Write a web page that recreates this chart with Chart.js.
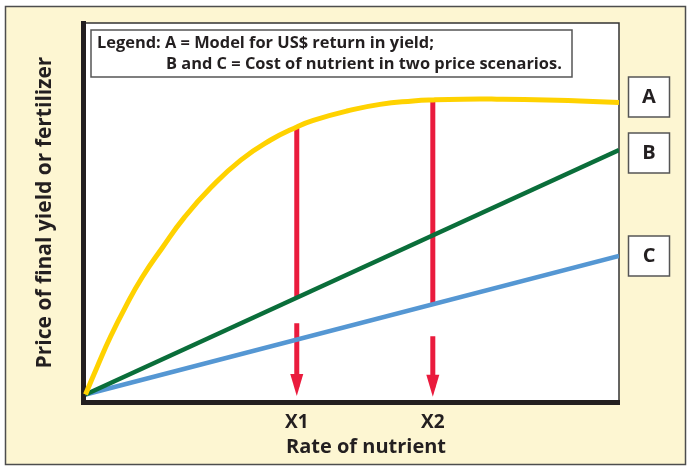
<!DOCTYPE html>
<html>
<head>
<meta charset="utf-8">
<script src="https://cdn.jsdelivr.net/npm/chart.js@4.4.1/dist/chart.umd.min.js"></script>
<style>
  html, body { margin: 0; padding: 0; background: #fff; }
  #wrap { width: 691px; height: 468px; }
</style>
</head>
<body>
<div id="wrap"><canvas id="myChart" width="691" height="468"></canvas></div>
<script>
// curve A: return in yield
var rate = [0, 2.2, 4.7, 7.5, 10.6, 14.4, 18.5, 23.5, 29.1, 34.7, 39.7, 42.7, 49.0, 55.2, 61.4, 65.2, 70.8, 77.1, 86.4, 92.7, 100];
var yieldReturn = [0, 7.5, 15.6, 23.6, 31.5, 39.5, 47.6, 55.7, 63.1, 68.5, 72.1, 73.8, 76.3, 78.1, 79.0, 79.3, 79.5, 79.5, 79.3, 79.0, 78.6];

// lines B and C: cost of nutrient
var costRate = [0, 100];
var costHigh = [0, 65.8];
var costLow = [0, 37.3];

// x ticks
var tickRates = [39.6, 65.1];
var tickLabels = ["X1", "X2"];

// red drop lines at X1 and X2
var dropTop = [72.1, 79.3];
var dropBottom = [26.2, 24.6];
var arrowStart = [19.2, 15.7];
var arrowTip = [-0.4, -0.6];

var ink = "#231f20";
var font = "'Open Sans', Lato, sans-serif";

function pts(xs, ys) {
  return xs.map(function (x, i) { return { x: x, y: ys[i] }; });
}

var datasets = [
  { data: pts(rate, yieldReturn), borderColor: "#ffd200", borderWidth: 5, tension: 0.5 },
  { data: pts(costRate, costHigh), borderColor: "#0a6e3a", borderWidth: 4.5 },
  { data: pts(costRate, costLow), borderColor: "#5597d3", borderWidth: 4.5 },
];
tickRates.forEach(function (x, i) {
  datasets.push({ data: [{ x: x, y: dropTop[i] }, { x: x, y: dropBottom[i] }], borderColor: "#ea1b3d", borderWidth: 5 });
  datasets.push({ data: [{ x: x, y: arrowStart[i] }, { x: x, y: arrowTip[i] + 2.5 }], borderColor: "#ea1b3d", borderWidth: 5 });
});

var decor = {
  id: "decor",
  beforeDraw: function (chart) {
    var ctx = chart.ctx, a = chart.chartArea;
    ctx.save();
    ctx.fillStyle = "#fff";
    ctx.fillRect(0, 0, chart.width, chart.height);
    ctx.fillStyle = "#fdf6d2";
    ctx.fillRect(5.5, 6.5, 680, 458);
    ctx.strokeStyle = "#4d4d4d";
    ctx.lineWidth = 1.5;
    ctx.strokeRect(5.5, 6.5, 680, 458);
    ctx.fillStyle = "#fff";
    ctx.fillRect(a.left, a.top, a.right - a.left, a.bottom - a.top);
    ctx.strokeStyle = "#333";
    ctx.lineWidth = 1.5;
    ctx.beginPath();
    ctx.moveTo(a.left, a.top);
    ctx.lineTo(a.right, a.top);
    ctx.lineTo(a.right, a.bottom);
    ctx.stroke();
    ctx.restore();
  },
  afterDatasetsDraw: function (chart) {
    var ctx = chart.ctx, sx = chart.scales.x, sy = chart.scales.y;
    ctx.save();
    ctx.fillStyle = "#ea1b3d";
    tickRates.forEach(function (x, i) {
      var px = sx.getPixelForValue(x), py = sy.getPixelForValue(arrowTip[i]);
      ctx.beginPath();
      ctx.moveTo(px, py);
      ctx.lineTo(px - 6.5, py - 22);
      ctx.lineTo(px + 6.5, py - 22);
      ctx.closePath();
      ctx.fill();
    });
    ctx.restore();
  },
  afterDraw: function (chart) {
    var ctx = chart.ctx;
    ctx.save();
    // legend box
    ctx.fillStyle = "#fff";
    ctx.fillRect(91, 30, 481, 47);
    ctx.strokeStyle = "#555";
    ctx.lineWidth = 1.5;
    ctx.strokeRect(91, 30, 481, 47);
    ctx.fillStyle = ink;
    ctx.font = "bold 16.4px " + font;
    ctx.textBaseline = "middle";
    ctx.textAlign = "left";
    ctx.fillText("Legend: A = Model for US$ return in yield;", 97, 43);
    ctx.fillText("B and C = Cost of nutrient in two price scenarios.", 166, 64);
    // A / B / C labels
    var tags = [["A", 77], ["B", 133], ["C", 236]];
    ctx.font = "bold 20px " + font;
    ctx.textAlign = "center";
    tags.forEach(function (t) {
      ctx.fillStyle = "#fff";
      ctx.fillRect(628.5, t[1], 41, 40);
      ctx.strokeStyle = "#555";
      ctx.strokeRect(628.5, t[1], 41, 40);
      ctx.fillStyle = ink;
      ctx.fillText(t[0], 649, t[1] + 20);
    });
    // x title
    ctx.font = "bold 20px " + font;
    ctx.fillText("Rate of nutrient", 366, 447);
    ctx.restore();
  },
};

new Chart(document.getElementById("myChart"), {
  type: "line",
  data: { datasets: datasets },
  plugins: [decor],
  options: {
    responsive: false,
    animation: false,
    events: [],
    layout: { padding: { left: 0, right: 72, top: 23, bottom: 0 } },
    elements: { point: { radius: 0 }, line: { borderCapStyle: "butt" } },
    plugins: { legend: { display: false }, tooltip: { enabled: false } },
    scales: {
      x: {
        type: "linear",
        min: -0.47,
        max: 100,
        grid: { display: false },
        border: { display: true, width: 5, color: ink },
        afterBuildTicks: function (scale) {
          scale.ticks = tickRates.map(function (v) { return { value: v }; });
        },
        afterFit: function (scale) { scale.height = 66; },
        ticks: {
          padding: 1,
          color: ink,
          font: { family: font, size: 19, weight: "bold" },
          callback: function (v, i) { return tickLabels[i]; },
        },
      },
      y: {
        type: "linear",
        min: -2.02,
        max: 100,
        grid: { display: false },
        border: { display: true, width: 5, color: ink },
        ticks: { display: false },
        afterFit: function (scale) { scale.width = 83; },
        title: {
          display: true,
          text: "Price of final yield or fertilizer",
          color: ink,
          font: { family: font, size: 21, weight: "bold" },
          padding: { top: 32, bottom: 0 },
        },
      },
    },
  },
});
</script>
</body>
</html>
